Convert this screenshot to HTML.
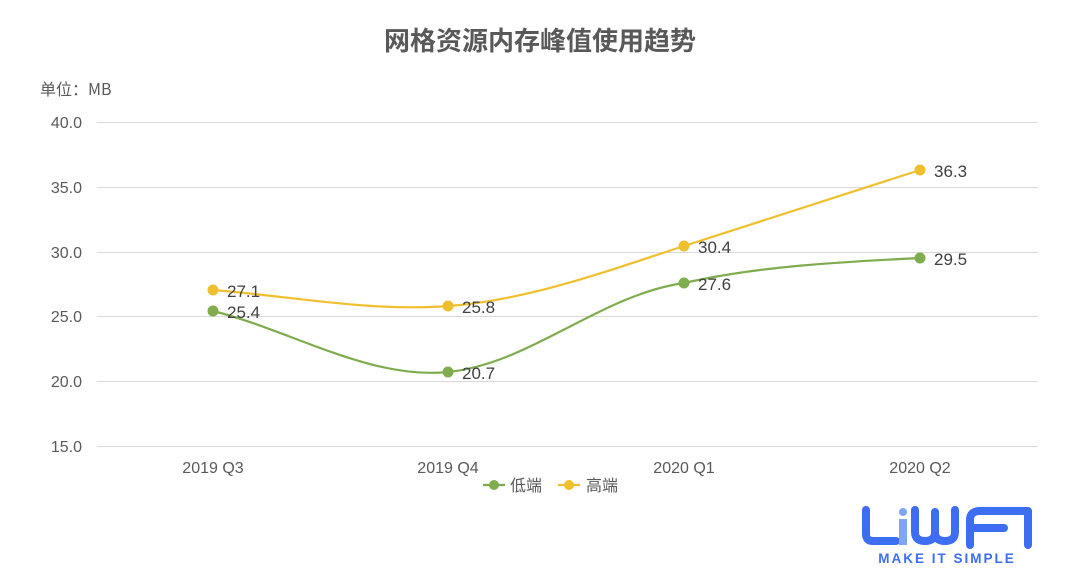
<!DOCTYPE html>
<html><head><meta charset="utf-8"><style>
body{margin:0;background:#fff;width:1080px;height:581px;overflow:hidden}
text{font-family:"Liberation Sans","Noto Sans CJK SC",sans-serif}
</style></head><body>
<svg width="1080" height="581" viewBox="0 0 1080 581">
<text x="540" y="50" text-anchor="middle" font-size="26" font-weight="bold" fill="#595959" style="font-family:'Noto Sans CJK SC',sans-serif">网格资源内存峰值使用趋势</text>
<text x="40" y="95" font-size="16" fill="#595959" style="font-family:'Noto Sans CJK SC',sans-serif">单位：MB</text>
<g stroke="#d9d9d9" stroke-width="1">
<line x1="97" y1="122.5" x2="1038" y2="122.5"/><line x1="97" y1="187.5" x2="1038" y2="187.5"/>
<line x1="97" y1="252.5" x2="1038" y2="252.5"/><line x1="97" y1="316.5" x2="1038" y2="316.5"/>
<line x1="97" y1="381.5" x2="1038" y2="381.5"/><line x1="97" y1="446.5" x2="1038" y2="446.5"/>
</g>
<g font-size="16" fill="#595959" text-anchor="end">
<text x="82" y="128">40.0</text><text x="82" y="193">35.0</text><text x="82" y="258">30.0</text>
<text x="82" y="322">25.0</text><text x="82" y="387">20.0</text><text x="82" y="452">15.0</text>
</g>
<g font-size="16" fill="#595959" text-anchor="middle">
<text x="213" y="473">2019 Q3</text><text x="448" y="473">2019 Q4</text><text x="684" y="473">2020 Q1</text><text x="920" y="473">2020 Q2</text>
</g>
<path d="M213,290 C290,296 370,312 448,306 C530,300 610,270 684,246 C760,222 840,196 920,170" fill="none" stroke="#f0bf2e" stroke-width="2.2"/>
<path d="M213,311 C290,330 370,380 448,372 C530,364 600,295 684,283 C760,266 840,262 920,258" fill="none" stroke="#7fac4d" stroke-width="2.2"/>
<g fill="#f0bf2e"><circle cx="213" cy="290" r="5.5"/><circle cx="448" cy="306" r="5.5"/><circle cx="684" cy="246" r="5.5"/><circle cx="920" cy="170" r="5.5"/></g>
<g fill="#7fac4d"><circle cx="213" cy="311" r="5.5"/><circle cx="448" cy="372" r="5.5"/><circle cx="684" cy="283" r="5.5"/><circle cx="920" cy="258" r="5.5"/></g>
<g font-size="17" fill="#404040">
<text x="227" y="297">27.1</text><text x="462" y="313">25.8</text><text x="698" y="253">30.4</text><text x="934" y="177">36.3</text>
<text x="227" y="318">25.4</text><text x="462" y="379">20.7</text><text x="698" y="290">27.6</text><text x="934" y="265">29.5</text>
</g>
<line x1="483" y1="485" x2="505" y2="485" stroke="#7fac4d" stroke-width="2.2"/><circle cx="494" cy="485" r="5" fill="#7fac4d"/>
<text x="510" y="491" font-size="16" fill="#595959">低端</text>
<line x1="558" y1="485" x2="580" y2="485" stroke="#f0bf2e" stroke-width="2.2"/><circle cx="569" cy="485" r="5" fill="#f0bf2e"/>
<text x="586" y="491" font-size="16" fill="#595959">高端</text>
<g fill="none" stroke="#3d6ef2" stroke-width="8" stroke-linecap="round" stroke-linejoin="round">
<path d="M866,510 V534 Q866,541 873,541 H896"/>
<path d="M915,510 V532 Q915,541 925,541 Q935,541 935,532 V512 M935,532 Q935,541 945,541 Q955,541 955,532 V510"/>
<path d="M970,545 V520 Q970,511 980,511 H1028 V545 M970,528 H1004"/>
</g>
<circle cx="903" cy="512" r="4" fill="#7fa6f5"/>
<path d="M899,519 H907 V545 H899 Z" fill="#7fa6f5"/>
<text x="947" y="563" text-anchor="middle" font-size="13.5" font-weight="bold" fill="#3d6ef2" letter-spacing="2">MAKE IT SIMPLE</text>
</svg>
</body></html>
